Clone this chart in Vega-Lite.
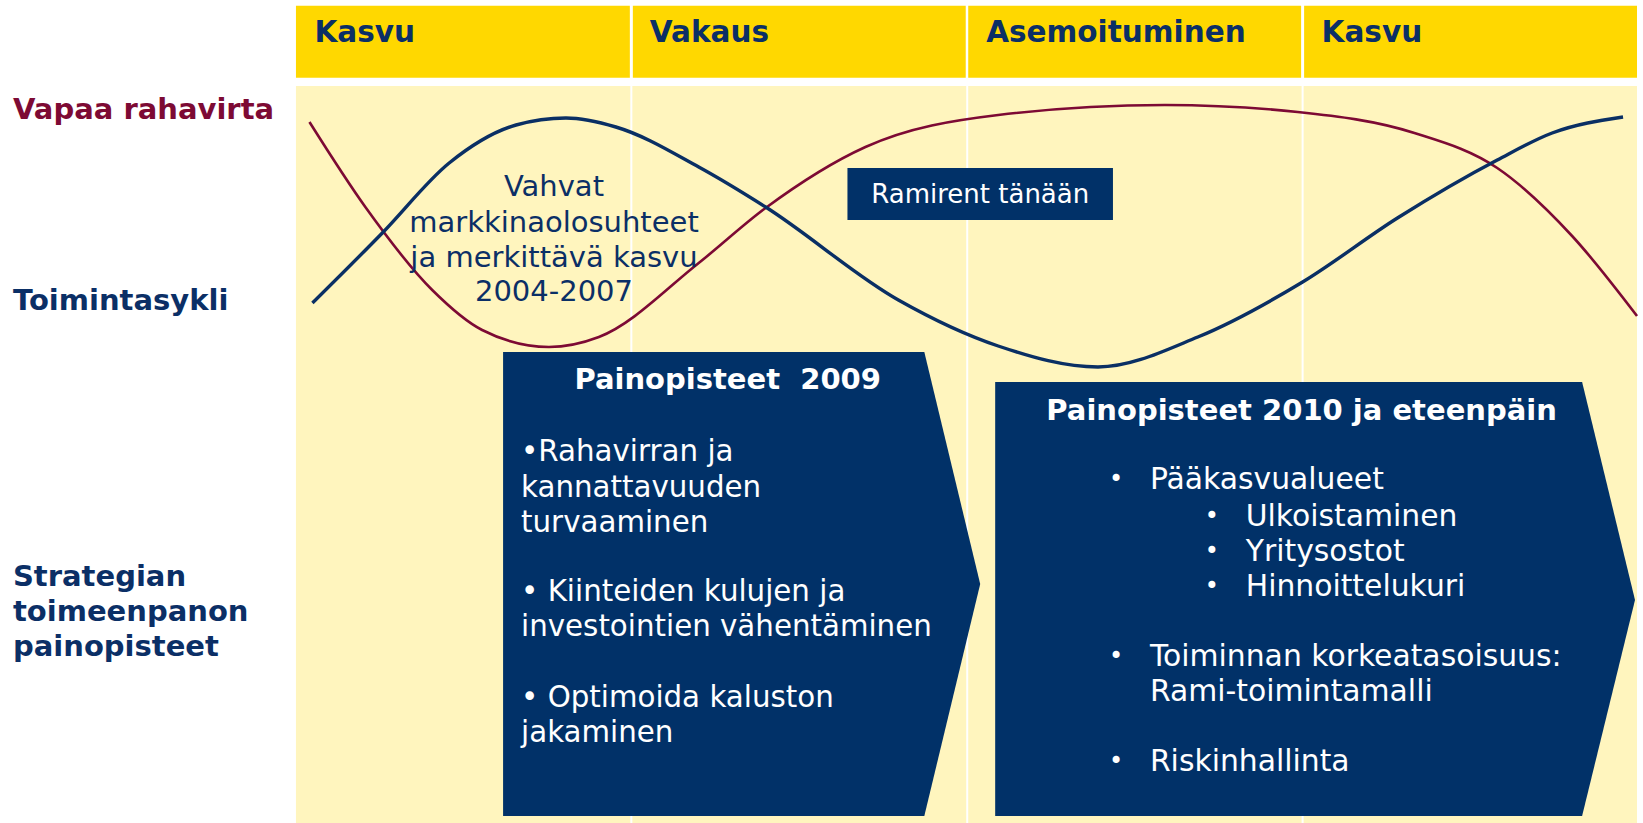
{
  "$schema": "https://vega.github.io/schema/vega-lite/v6.json",
  "width": 1643,
  "height": 823,
  "autosize": {"type": "fit", "contains": "padding"},
  "padding": 0,
  "background": "white",
  "config": {"view": {"stroke": null}, "font": "DejaVu Sans"},
  "datasets": {
    "header": [
      {"x": 296.5, "x2": 631, "y": 5.7, "y2": 77.7},
      {"x": 634, "x2": 967.5, "y": 5.7, "y2": 77.7},
      {"x": 970, "x2": 1303.5, "y": 5.7, "y2": 77.7},
      {"x": 1306.5, "x2": 1640, "y": 5.7, "y2": 77.7}
    ],
    "body": [
      {"x": 296.5, "x2": 631.5, "y": 86, "y2": 823},
      {"x": 633.5, "x2": 968, "y": 86, "y2": 823},
      {"x": 970, "x2": 1304, "y": 86, "y2": 823},
      {"x": 1306, "x2": 1640, "y": 86, "y2": 823}
    ],
    "curves": [
      {"series": "Vapaa rahavirta", "x": 310, "y": 122},
      {"series": "Vapaa rahavirta", "x": 366, "y": 207},
      {"series": "Vapaa rahavirta", "x": 433, "y": 290},
      {"series": "Vapaa rahavirta", "x": 483, "y": 330},
      {"series": "Vapaa rahavirta", "x": 550, "y": 347},
      {"series": "Vapaa rahavirta", "x": 600, "y": 337},
      {"series": "Vapaa rahavirta", "x": 700, "y": 263},
      {"series": "Vapaa rahavirta", "x": 767, "y": 208},
      {"series": "Vapaa rahavirta", "x": 867, "y": 147},
      {"series": "Vapaa rahavirta", "x": 1000, "y": 115},
      {"series": "Vapaa rahavirta", "x": 1167, "y": 105},
      {"series": "Vapaa rahavirta", "x": 1300, "y": 112},
      {"series": "Vapaa rahavirta", "x": 1417, "y": 133},
      {"series": "Vapaa rahavirta", "x": 1500, "y": 168},
      {"series": "Vapaa rahavirta", "x": 1575, "y": 236},
      {"series": "Vapaa rahavirta", "x": 1640, "y": 316},
      {"series": "Toimintasykli", "x": 313, "y": 303},
      {"series": "Toimintasykli", "x": 383, "y": 233},
      {"series": "Toimintasykli", "x": 450, "y": 163},
      {"series": "Toimintasykli", "x": 517, "y": 125},
      {"series": "Toimintasykli", "x": 567, "y": 118},
      {"series": "Toimintasykli", "x": 617, "y": 127},
      {"series": "Toimintasykli", "x": 700, "y": 167},
      {"series": "Toimintasykli", "x": 767, "y": 207},
      {"series": "Toimintasykli", "x": 900, "y": 300},
      {"series": "Toimintasykli", "x": 1000, "y": 346},
      {"series": "Toimintasykli", "x": 1100, "y": 367},
      {"series": "Toimintasykli", "x": 1200, "y": 337},
      {"series": "Toimintasykli", "x": 1305, "y": 282},
      {"series": "Toimintasykli", "x": 1400, "y": 218},
      {"series": "Toimintasykli", "x": 1500, "y": 160},
      {"series": "Toimintasykli", "x": 1555, "y": 133},
      {"series": "Toimintasykli", "x": 1626, "y": 117}
    ],
    "chevrons": [
      {"box": "2009", "x": 504, "y": 352, "y2": 816},
      {"box": "2009", "x": 926, "y": 352, "y2": 816},
      {"box": "2009", "x": 982, "y": 584, "y2": 584},
      {"box": "2010", "x": 997, "y": 382, "y2": 816},
      {"box": "2010", "x": 1585, "y": 382, "y2": 816},
      {"box": "2010", "x": 1638, "y": 600, "y2": 600}
    ],
    "tag": [
      {"x": 849, "x2": 1115, "y": 168, "y2": 220}
    ],
    "headerText": [
      {"x": 315, "y": 33, "text": "Kasvu"},
      {"x": 651, "y": 33, "text": "Vakaus"},
      {"x": 988, "y": 33, "text": "Asemoituminen"},
      {"x": 1324, "y": 33, "text": "Kasvu"}
    ],
    "sideRed": [
      {"x": 13, "y": 110, "text": "Vapaa rahavirta"}
    ],
    "sideNavy": [
      {"x": 13, "y": 301, "text": "Toimintasykli"},
      {"x": 13, "y": 577, "text": "Strategian"},
      {"x": 13, "y": 612, "text": "toimeenpanon"},
      {"x": 13, "y": 647, "text": "painopisteet"}
    ],
    "note": [
      {"x": 555, "y": 187, "text": "Vahvat"},
      {"x": 555, "y": 223, "text": "markkinaolosuhteet"},
      {"x": 555, "y": 258, "text": "ja merkittävä kasvu"},
      {"x": 555, "y": 292, "text": "2004-2007"}
    ],
    "tagText": [
      {"x": 982, "y": 195, "text": "Ramirent tänään"}
    ],
    "boxTitles": [
      {"x": 729, "y": 380, "text": "Painopisteet\u00a0 2009"},
      {"x": 1304, "y": 411, "text": "Painopisteet 2010 ja eteenpäin"}
    ],
    "boxBody": [
      {"x": 522, "y": 452, "text": "•Rahavirran ja"},
      {"x": 522, "y": 488, "text": "kannattavuuden"},
      {"x": 522, "y": 523, "text": "turvaaminen"},
      {"x": 522, "y": 592, "text": "• Kiinteiden kulujen ja"},
      {"x": 522, "y": 627, "text": "investointien vähentäminen"},
      {"x": 522, "y": 698, "text": "• Optimoida kaluston"},
      {"x": 522, "y": 733, "text": "jakaminen"}
    ],
    "boxBody2": [
      {"x": 1152, "y": 480, "text": "Pääkasvualueet"},
      {"x": 1248, "y": 517, "text": "Ulkoistaminen"},
      {"x": 1248, "y": 552, "text": "Yritysostot"},
      {"x": 1248, "y": 587, "text": "Hinnoittelukuri"},
      {"x": 1152, "y": 657, "text": "Toiminnan korkeatasoisuus:"},
      {"x": 1152, "y": 692, "text": "Rami-toimintamalli"},
      {"x": 1152, "y": 762, "text": "Riskinhallinta"}
    ],
    "bullets": [
      {"x": 1118, "y": 480, "text": "•"},
      {"x": 1214, "y": 517, "text": "•"},
      {"x": 1214, "y": 552, "text": "•"},
      {"x": 1214, "y": 587, "text": "•"},
      {"x": 1118, "y": 657, "text": "•"},
      {"x": 1118, "y": 762, "text": "•"}
    ]
  },
  "encoding": {
    "x": {"field": "x", "type": "quantitative", "scale": {"domain": [0, 1643], "nice": false, "zero": false}, "axis": null},
    "y": {"field": "y", "type": "quantitative", "scale": {"domain": [0, 823], "nice": false, "zero": false, "reverse": true}, "axis": null}
  },
  "layer": [
    {
      "data": {"name": "header"},
      "mark": {"type": "rect", "color": "#FFD800"},
      "encoding": {"x2": {"field": "x2"}, "y2": {"field": "y2"}}
    },
    {
      "data": {"name": "body"},
      "mark": {"type": "rect", "color": "#FFF5BE"},
      "encoding": {"x2": {"field": "x2"}, "y2": {"field": "y2"}}
    },
    {
      "data": {"name": "curves"},
      "transform": [{"filter": "datum.series === 'Vapaa rahavirta'"}],
      "mark": {"type": "line", "color": "#7D0A34", "strokeWidth": 2.6, "interpolate": "monotone"},
      "encoding": {}
    },
    {
      "data": {"name": "curves"},
      "transform": [{"filter": "datum.series === 'Toimintasykli'"}],
      "mark": {"type": "line", "color": "#0A2F64", "strokeWidth": 3.4, "interpolate": "monotone"},
      "encoding": {}
    },
    {
      "data": {"name": "chevrons"},
      "mark": {"type": "area", "color": "#013168", "opacity": 1},
      "encoding": {
        "y": {"field": "y", "type": "quantitative", "stack": null, "scale": {"domain": [0, 823], "nice": false, "zero": false, "reverse": true}, "axis": null},
        "y2": {"field": "y2"},
        "detail": {"field": "box", "type": "nominal"}
      }
    },
    {
      "data": {"name": "tag"},
      "mark": {"type": "rect", "color": "#013168"},
      "encoding": {"x2": {"field": "x2"}, "y2": {"field": "y2"}}
    },
    {
      "data": {"name": "headerText"},
      "mark": {"type": "text", "align": "left", "baseline": "middle", "fontSize": 29.5, "fontWeight": "bold", "color": "#0B2F66"},
      "encoding": {"text": {"field": "text"}}
    },
    {
      "data": {"name": "sideRed"},
      "mark": {"type": "text", "align": "left", "baseline": "middle", "fontSize": 29, "fontWeight": "bold", "color": "#7D0A34"},
      "encoding": {"text": {"field": "text"}}
    },
    {
      "data": {"name": "sideNavy"},
      "mark": {"type": "text", "align": "left", "baseline": "middle", "fontSize": 29, "fontWeight": "bold", "color": "#0B2F66"},
      "encoding": {"text": {"field": "text"}}
    },
    {
      "data": {"name": "note"},
      "mark": {"type": "text", "align": "center", "baseline": "middle", "fontSize": 29, "color": "#0B2F66"},
      "encoding": {"text": {"field": "text"}}
    },
    {
      "data": {"name": "tagText"},
      "mark": {"type": "text", "align": "center", "baseline": "middle", "fontSize": 26, "color": "white"},
      "encoding": {"text": {"field": "text"}}
    },
    {
      "data": {"name": "boxTitles"},
      "mark": {"type": "text", "align": "center", "baseline": "middle", "fontSize": 29, "fontWeight": "bold", "color": "white"},
      "encoding": {"text": {"field": "text"}}
    },
    {
      "data": {"name": "boxBody"},
      "mark": {"type": "text", "align": "left", "baseline": "middle", "fontSize": 29.3, "color": "white"},
      "encoding": {"text": {"field": "text"}}
    },
    {
      "data": {"name": "boxBody2"},
      "mark": {"type": "text", "align": "left", "baseline": "middle", "fontSize": 29.8, "color": "white"},
      "encoding": {"text": {"field": "text"}}
    },
    {
      "data": {"name": "bullets"},
      "mark": {"type": "text", "align": "center", "baseline": "middle", "fontSize": 24, "color": "white"},
      "encoding": {"text": {"field": "text"}}
    }
  ]
}
